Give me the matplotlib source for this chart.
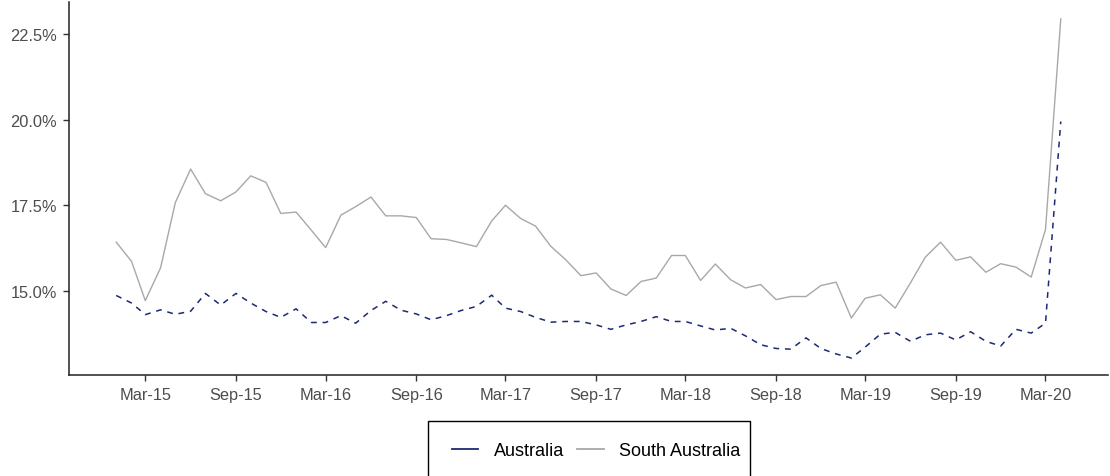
import pandas as pd
import numpy as np
import matplotlib
matplotlib.use("Agg")
import matplotlib.pyplot as plt
import matplotlib.dates as mdates
from matplotlib.ticker import FuncFormatter
from matplotlib.lines import Line2D
from matplotlib.patches import Rectangle

plt.rcParams['font.family'] = ['Liberation Sans', 'DejaVu Sans']

# monthly series, Jan-15 .. Apr-20 (percent)
months = pd.date_range("2015-01-01", "2020-04-01", freq="MS")

australia = [14.86, 14.64, 14.30, 14.44, 14.31, 14.40, 14.92, 14.58, 14.92, 14.64,
             14.39, 14.22, 14.47, 14.07, 14.07, 14.27, 14.05, 14.42, 14.69, 14.43,
             14.32, 14.15, 14.27, 14.42, 14.54, 14.87, 14.49, 14.39, 14.22, 14.08,
             14.10, 14.10, 14.00, 13.87, 14.00, 14.10, 14.24, 14.10, 14.10, 13.97,
             13.85, 13.90, 13.68, 13.42, 13.31, 13.29, 13.62, 13.31, 13.15, 13.03,
             13.35, 13.73, 13.78, 13.52, 13.71, 13.76, 13.56, 13.80, 13.52, 13.38,
             13.87, 13.76, 14.05, 19.95]

south_australia = [16.42, 15.86, 14.71, 15.67, 17.58, 18.56, 17.84, 17.63, 17.89, 18.36,
                   18.17, 17.26, 17.30, 16.77, 16.26, 17.21, 17.46, 17.74, 17.19, 17.19,
                   17.14, 16.52, 16.50, 16.40, 16.29, 17.04, 17.50, 17.11, 16.89, 16.30,
                   15.91, 15.44, 15.52, 15.05, 14.86, 15.27, 15.37, 16.03, 16.03, 15.30,
                   15.78, 15.32, 15.08, 15.18, 14.74, 14.83, 14.83, 15.15, 15.25, 14.20,
                   14.78, 14.88, 14.49, 15.23, 15.98, 16.42, 15.89, 15.99, 15.54, 15.79,
                   15.69, 15.40, 16.79, 22.95]

y_ticks = [15.0, 17.5, 20.0, 22.5]
x_ticks = pd.date_range("2015-03-01", "2020-03-01", freq="6MS")

W, H = 1110, 477
fig = plt.figure(figsize=(W / 100, H / 100), dpi=100)
ax = fig.add_axes([69 / W, (H - 376) / H, (1108 - 69) / W, (376 - 3) / H])

navy = "#1b2a73"
grey = "#a8a8a8"

ax.plot(months, south_australia, color=grey, lw=1.0, label="South Australia", zorder=2)
ax.plot(months, australia, color=navy, lw=1.1, ls=(0, (3.8, 3.8)), label="Australia", zorder=3)

# ggplot-style 5% expansion
lo = min(min(australia), min(south_australia))
hi = max(max(australia), max(south_australia))
pad = (hi - lo) * 0.05
ax.set_ylim(lo - pad, hi + pad)
x0, x1 = mdates.date2num(months[0]), mdates.date2num(months[-1])
xpad = (x1 - x0) * 0.05
ax.set_xlim(x0 - xpad, x1 + xpad)

ax.set_yticks(y_ticks)
ax.yaxis.set_major_formatter(FuncFormatter(lambda v, p: f"{v:.1f}%"))
ax.set_xticks(x_ticks)
ax.xaxis.set_major_formatter(mdates.DateFormatter("%b-%y"))

for s in ["top", "right"]:
    ax.spines[s].set_visible(False)
for s in ["left", "bottom"]:
    ax.spines[s].set_color("#222222")
    ax.spines[s].set_linewidth(1.1)
ax.tick_params(axis="both", length=4.5, width=1.0, color="#333333",
               labelcolor="#4d4d4d", labelsize=11.8, pad=4)

# legend box (runs off the bottom edge, as in the reference)
fig.patches.append(Rectangle((428 / W, 1 - 482 / H), 322 / W, 60 / H,
                             transform=fig.transFigure, fill=False,
                             edgecolor="black", lw=1.0))
handles = [Line2D([], [], color=navy, lw=1.3), Line2D([], [], color=grey, lw=1.3)]
leg = fig.legend(handles, ["Australia", "South Australia"], loc="center left",
                 bbox_to_anchor=(452 / W, 1 - 452 / H), ncol=2, frameon=False,
                 fontsize=13, borderpad=0, handlelength=1.45,
                 handletextpad=0.85, columnspacing=0.75, borderaxespad=0)

fig.savefig("out.png", dpi=100)
